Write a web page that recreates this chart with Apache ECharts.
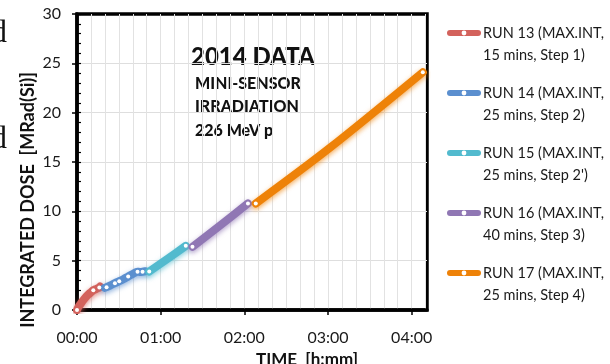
<!DOCTYPE html>
<html>
<head>
<meta charset="utf-8">
<script src="https://cdn.jsdelivr.net/npm/echarts@6/dist/echarts.min.js"></script>
<style>
html,body{margin:0;padding:0;background:#fff;}
#chart{width:610px;height:364px;}
</style>
</head>
<body>
<div id="chart"></div>
<script>
// ---- data (time in minutes, dose in MRad(Si)) ----
const runNames = [
  'RUN 13 (MAX.INT, 15 mins, Step 1)',
  'RUN 14 (MAX.INT, 25 mins, Step 2)',
  "RUN 15 (MAX.INT, 25 mins, Step 2')",
  'RUN 16 (MAX.INT, 40 mins, Step 3)',
  'RUN 17 (MAX.INT, 25 mins, Step 4)'
];
const run13Time = [0, 1, 2.5, 4, 6, 8, 10, 11.7, 14, 16, 16.6];
const run13Dose = [0, 0.3, 0.6, 0.9, 1.25, 1.55, 1.8, 2.0, 2.15, 2.28, 2.38];
const run13Dots = [0, 7, 9];
const run14Time = [20, 21.2, 24, 27.2, 30.3, 33.5, 36.7, 40, 43.4, 45, 47, 49];
const run14Dose = [2.25, 2.31, 2.5, 2.72, 2.92, 3.15, 3.4, 3.65, 3.88, 3.86, 3.88, 3.93];
const run14Dots = [1, 3, 4, 6, 8, 10];
const run15Time = [51.8, 65, 78];
const run15Dose = [3.9, 5.2, 6.5];
const run15Dots = [0, 2];
const run16Time = [82.8, 102, 122.6];
const run16Dose = [6.4, 8.5, 10.8];
const run16Dots = [0, 2];
const run17Time = [128.2, 181, 248];
const run17Dose = [10.8, 16.4, 24.1];
const run17Dots = [0, 2];
const timeTicks = [0, 60, 120, 180, 240];
const timeMax = 251;
const doseMax = 30;

const runs = [
  [run13Time, run13Dose, run13Dots],
  [run14Time, run14Dose, run14Dots],
  [run15Time, run15Dose, run15Dots],
  [run16Time, run16Dose, run16Dots],
  [run17Time, run17Dose, run17Dots]
];
const colors = ['#D3625C', '#5B8FCF', '#52BACE', '#9077B4', '#EE8208'];
const FONT = 'Lato';

function fmtTime(v) {
  const h = Math.floor(v / 60), m = Math.round(v % 60);
  return String(h).padStart(2, '0') + ':' + String(m).padStart(2, '0');
}

const series = runs.map((r, i) => ({
  name: runNames[i],
  type: 'line',
  smooth: 0.3,
  symbol: 'circle',
  symbolSize: 4,
  showAllSymbol: true,
  color: colors[i],
  itemStyle: { color: '#ffffff', borderWidth: 0 },
  lineStyle: {
    color: colors[i], width: 8, cap: 'round', join: 'round',
    shadowBlur: 5, shadowColor: colors[i] + 'aa', shadowOffsetY: 2
  },
  emphasis: { disabled: true },
  data: r[0].map((t, k) => r[2].indexOf(k) >= 0
    ? { value: [t, r[1][k]] }
    : { value: [t, r[1][k]], symbol: 'none' })
}));

const legends = runNames.map((n, i) => ({
  data: [n],
  orient: 'vertical',
  left: 447,
  top: i * 60,
  padding: 0,
  itemWidth: 28,
  itemHeight: 6,
  selectedMode: false,
  lineStyle: { width: 6, cap: 'round' },
  itemStyle: { color: '#ffffff', borderWidth: 0 },
  formatter: function (name) {
    const k = name.indexOf(', ');
    return '\n' + name.slice(0, k + 1) + '\n' + name.slice(k + 2);
  },
  textStyle: { fontFamily: FONT, fontSize: 14.5, lineHeight: 22, color: '#1a1a1a' }
}));

const titleStyle = (text, size) => ({
  text: text, fontFamily: FONT, fontWeight: 900, fontSize: size,
  fill: '#111', stroke: null, lineWidth: 0
});

const chart = echarts.init(document.getElementById('chart'), null, { renderer: 'canvas' });
chart.setOption({
  animation: false,
  backgroundColor: '#ffffff',
  grid: {
    left: 77, top: 14, width: 350, height: 296,
    show: true, borderColor: '#000', borderWidth: 3.5,
    containLabel: false, outerBoundsMode: 'none'
  },
  legend: legends,
  xAxis: [{
    type: 'value', min: 0, max: timeMax,
    interval: 60,
    name: 'TIME  [h:mm]', nameLocation: 'middle', nameGap: 32,
    nameTextStyle: { fontFamily: FONT, fontWeight: 'bold', fontSize: 17, color: '#111', padding: [0, 0, 0, 110] },
    axisLine: { show: true, onZero: false, lineStyle: { color: '#000', width: 3.5 } },
    axisTick: { show: true, length: 5, customValues: timeTicks, lineStyle: { color: '#000', width: 1.5 } },
    axisLabel: { customValues: timeTicks, formatter: fmtTime, margin: 20, fontFamily: FONT, fontSize: 16, color: '#1a1a1a' },
    splitLine: { show: false }
  }, {
    type: 'value', min: 0, max: timeMax, interval: 10, position: 'bottom',
    axisLine: { show: false }, axisTick: { show: false }, axisLabel: { show: false },
    splitLine: { show: true, showMinLine: false, showMaxLine: false, lineStyle: { color: '#e2e2e2', width: 1 } }
  }],
  yAxis: [{
    type: 'value', min: 0, max: doseMax, interval: 5, position: 'left',
    axisLine: { show: true, onZero: false, lineStyle: { color: '#000', width: 3.5 } },
    axisTick: { show: true, length: 5, lineStyle: { color: '#000', width: 1.5 } },
    axisLabel: { margin: 16, fontFamily: FONT, fontSize: 16, color: '#1a1a1a' },
    splitLine: { show: true, showMinLine: false, showMaxLine: false, lineStyle: { color: '#dedede', width: 1 } }
  }, {
    type: 'value', min: 0, max: doseMax, interval: 1, position: 'left', offset: 0,
    axisLine: { show: false },
    axisTick: { show: true, inside: true, length: 4, lineStyle: { color: '#000', width: 1.2 } },
    axisLabel: { show: false },
    splitLine: { show: false }
  }],
  series: series,
  graphic: [
    { type: 'text', left: 191, top: 45, style: titleStyle('2014 DATA', 24) },
    { type: 'text', left: 195, top: 76, style: titleStyle('MINI-SENSOR', 16) },
    { type: 'text', left: 195, top: 99, style: titleStyle('IRRADIATION', 16) },
    { type: 'text', left: 195, top: 123, style: titleStyle('226 MeV p', 16) },
    { type: 'text', x: 28, y: 200, rotation: Math.PI / 2,
      style: { text: 'INTEGRATED DOSE  [MRad(Si)]', fontFamily: FONT, fontWeight: 'bold', fontSize: 18,
               fill: '#111', align: 'center', verticalAlign: 'middle' } },
    { type: 'text', x: -9, y: 18, style: { text: 'd', fontFamily: 'Liberation Serif', fontSize: 32, fill: '#111' } },
    { type: 'text', x: -9, y: 124, style: { text: 'd', fontFamily: 'Liberation Serif', fontSize: 32, fill: '#111' } }
  ]
});
</script>
</body>
</html>
